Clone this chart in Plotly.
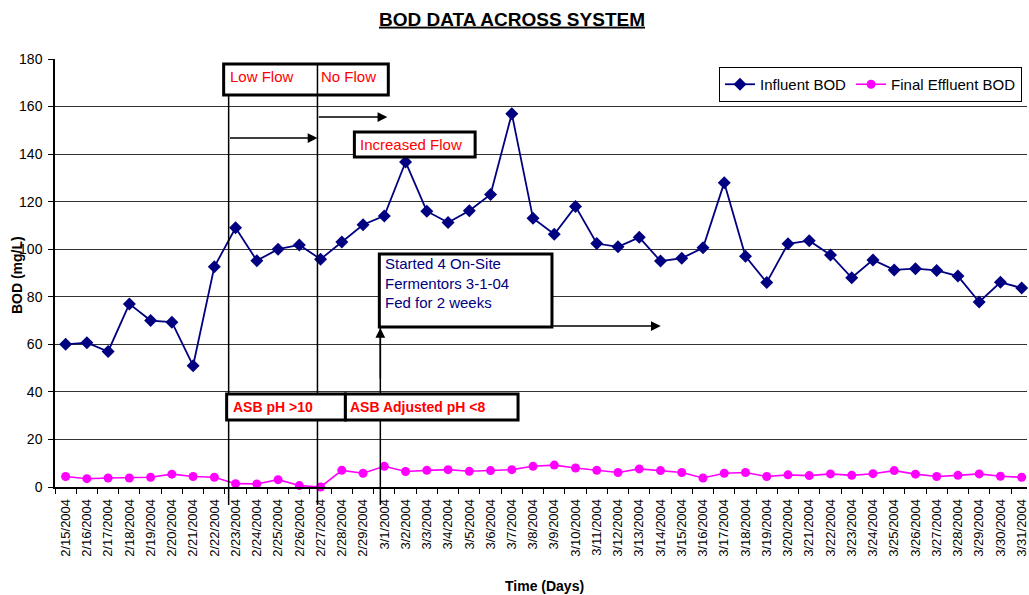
import plotly.graph_objects as go

dates = ["2/15/2004", "2/16/2004", "2/17/2004", "2/18/2004", "2/19/2004", "2/20/2004",
         "2/21/2004", "2/22/2004", "2/23/2004", "2/24/2004", "2/25/2004", "2/26/2004",
         "2/27/2004", "2/28/2004", "2/29/2004",
         "3/1/2004", "3/2/2004", "3/3/2004", "3/4/2004", "3/5/2004", "3/6/2004", "3/7/2004",
         "3/8/2004", "3/9/2004", "3/10/2004", "3/11/2004", "3/12/2004", "3/13/2004",
         "3/14/2004", "3/15/2004", "3/16/2004", "3/17/2004", "3/18/2004", "3/19/2004",
         "3/20/2004", "3/21/2004", "3/22/2004", "3/23/2004", "3/24/2004", "3/25/2004",
         "3/26/2004", "3/27/2004", "3/28/2004", "3/29/2004", "3/30/2004", "3/31/2004"]

influent_bod = [60, 60.7, 57, 77, 70, 69.3, 51, 92.6, 109, 95.2, 100, 101.8, 95.8, 103, 110.3,
                114, 136.7, 116, 111.2, 116.2, 123, 157, 113, 106.3, 118, 102.4, 101, 105,
                95, 96.2, 100.6, 128, 97, 86, 102.3, 103.6, 97.6, 88, 95.5, 91.3, 91.8, 91.1,
                88.7, 77.8, 86.1, 83.7]

effluent_bod = [4.4, 3.5, 3.8, 3.8, 4.1, 5.4, 4.4, 4.1, 1.4, 1.3, 3.1, 0.6, 0, 7.0, 5.8,
                8.7, 6.5, 7.0, 7.3, 6.6, 6.9, 7.3, 8.7, 9.2, 8.0, 7.0, 6.1, 7.6, 6.9, 6.1,
                3.8, 5.8, 6.1, 4.4, 5.1, 4.8, 5.5, 4.9, 5.6, 6.9, 5.4, 4.4, 4.9, 5.5, 4.5, 4.1]

y_ticks = [0, 20, 40, 60, 80, 100, 120, 140, 160, 180]

FONT = "Liberation Sans, Arial, sans-serif"
PAGE_W, PAGE_H = 1029, 595
OFF = 0  # page body margin removed by post_script
W, H = PAGE_W - OFF, PAGE_H - OFF
# plot area in page pixels
PL, PT, PB, PR = 55, 59, 487, 1029
PW = PR - PL
PH = PB - PT


def X(px):
    return (px - PL) / PW


def Y(py):
    return (PB - py) / PH


fig = go.Figure()
fig.add_trace(go.Scatter(
    x=dates, y=influent_bod, name="Influent BOD", mode="lines+markers",
    line=dict(color="#000080", width=1.8),
    marker=dict(symbol="diamond", size=10, color="#000080"),
    cliponaxis=False))
fig.add_trace(go.Scatter(
    x=dates, y=effluent_bod, name="Final Effluent BOD", mode="lines+markers",
    line=dict(color="#FF00FF", width=1.6),
    marker=dict(symbol="circle", size=9, color="#FF00FF"),
    cliponaxis=False))

shapes = []


def line(x0, y0, x1, y1, w=1.5):
    shapes.append(dict(type="line", xref="paper", yref="paper",
                       x0=X(x0), y0=Y(y0), x1=X(x1), y1=Y(y1),
                       line=dict(color="black", width=w), layer="above"))


def box(x0, y0, x1, y1):
    shapes.append(dict(type="rect", xref="paper", yref="paper",
                       x0=X(x0), y0=Y(y0), x1=X(x1), y1=Y(y1),
                       line=dict(color="black", width=3), fillcolor="white", layer="above"))


# vertical marker lines (behind boxes)
line(229, 95, 229, 505)
line(318, 64, 318, 505)
line(381, 327, 381, 505)

box(224, 64, 389, 95)
line(318, 64, 318, 95)
box(355, 132, 476, 157)
box(380, 254, 553, 327)
box(227, 394, 346, 420)
box(346, 394, 519, 420)

annotations = []


def text(px, py, s, color, size=15, bold=False):
    annotations.append(dict(xref="paper", yref="paper", x=X(px), y=Y(py),
                            xanchor="left", yanchor="middle", showarrow=False,
                            text=("<b>%s</b>" % s) if bold else s, align="left",
                            font=dict(family=FONT, size=size, color=color)))


def arrow(tx, ty, hx, hy):
    annotations.append(dict(xref="paper", yref="paper", x=X(hx), y=Y(hy),
                            axref="pixel", ayref="pixel", ax=tx - hx, ay=ty - hy,
                            text="", showarrow=True, arrowhead=2, arrowsize=1.3,
                            arrowwidth=1.5, arrowcolor="black"))


text(228, 76, "Low Flow", "red")
text(320, 76, "No Flow", "red")
text(359, 144, "Increased Flow", "red")
text(384, 283, "Started 4 On-Site<br>Fermentors 3-1-04<br>Fed for 2 weeks", "#000080")
text(231, 407, "ASB pH >10", "red", size=14, bold=True)
text(349, 407, "ASB Adjusted pH <8", "red", size=14, bold=True)

arrow(229, 138, 318, 138)
arrow(318, 117, 388, 117)
arrow(553, 326, 662, 326)
arrow(381, 380, 381, 328)

# axis titles
annotations.append(dict(xref="paper", yref="paper", x=X(546), y=Y(586), showarrow=False,
                        xanchor="center", yanchor="middle", text="<b>Time (Days)</b>",
                        font=dict(family=FONT, size=14, color="black")))
annotations.append(dict(xref="paper", yref="paper", x=X(17), y=Y(275), showarrow=False,
                        xanchor="center", yanchor="middle", text="<b>BOD (mg/L)</b>",
                        textangle=-90, font=dict(family=FONT, size=14, color="black")))

fig.update_layout(
    width=W, height=H,
    margin=dict(l=PL - OFF, r=(OFF + W) - PR, t=PT - OFF, b=PAGE_H - PB, pad=0),
    paper_bgcolor="white", plot_bgcolor="white",
    font=dict(family=FONT, color="black"),
    title=dict(text="<b><u>BOD DATA ACROSS SYSTEM</u></b>", x=(512 - OFF) / W,
               xanchor="center", xref="container", yref="container",
               y=1 - (19 - OFF) / H, yanchor="middle",
               font=dict(family=FONT, size=19, color="black")),
    showlegend=True,
    legend=dict(orientation="h", x=X(1024), xanchor="right", y=Y(67), yanchor="top",
                bordercolor="black", borderwidth=1, bgcolor="white",
                font=dict(family=FONT, size=15, color="black"),
                itemwidth=30, tracegroupgap=0),
    shapes=shapes, annotations=annotations,
    xaxis=dict(type="category", range=[-0.5, 45.25], tickson="boundaries",
               ticks="outside", ticklen=5, tickcolor="black", showline=True,
               linecolor="black", linewidth=1.5, showgrid=False, tickangle=-90,
               ticklabelstandoff=5,
               tickfont=dict(family=FONT, size=13, color="black"), zeroline=False),
    yaxis=dict(range=[0, 180], tickvals=y_ticks, ticks="outside", ticklen=5,
               tickcolor="black", showline=True, linecolor="black", linewidth=1.5,
               showgrid=True, gridcolor="#333333", gridwidth=1, zeroline=False,
               ticklabelstandoff=3,
               tickfont=dict(family=FONT, size=14, color="black")),
)

fig.write_html(
    "out.html",
    config={"displayModeBar": False},
    default_width="%dpx" % W, default_height="%dpx" % H,
    post_script="document.body.style.margin='0';document.body.style.overflow='hidden';",
)
